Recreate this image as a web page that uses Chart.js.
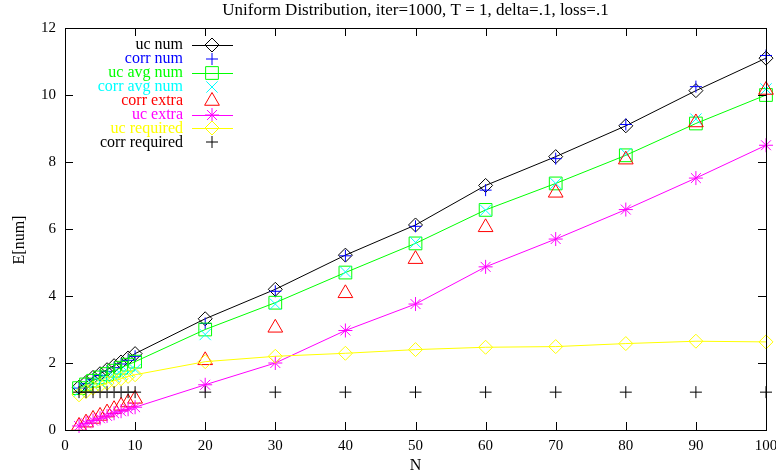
<!DOCTYPE html>
<html>
<head>
<meta charset="utf-8">
<script src="https://cdn.jsdelivr.net/npm/chart.js@4.4.1/dist/chart.umd.min.js"></script>
<style>
    html, body { margin: 0; padding: 0; background: #fff; }
    #wrap { width: 776px; height: 475px; }
</style>
</head>
<body>
<div id="wrap"><canvas id="chart"></canvas></div>
<script>
const nValues = [2, 3, 4, 5, 6, 7, 8, 9, 10, 20, 30, 40, 50, 60, 70, 80, 90, 100];

const ucNum = [1.28, 1.42, 1.57, 1.68, 1.8, 1.92, 2.03, 2.15, 2.28, 3.32, 4.2, 5.22, 6.12, 7.3, 8.16, 9.08, 10.13, 11.1];
const corrNum = [1.25, 1.38, 1.52, 1.63, 1.75, 1.86, 1.97, 2.08, 2.2, 3.18, 4.14, 5.2, 6.08, 7.16, 8.1, 9.12, 10.25, 11.18];
const ucAvgNum = [1.25, 1.36, 1.47, 1.57, 1.67, 1.77, 1.86, 1.95, 2.04, 3.0, 3.8, 4.7, 5.57, 6.57, 7.36, 8.2, 9.15, 10.0];
const corrAvgNum = [1.15, 1.25, 1.34, 1.43, 1.51, 1.59, 1.66, 1.73, 1.8, 2.85, 3.76, 4.72, 5.6, 6.56, 7.36, 8.25, 9.28, 10.18];
const corrExtra = [0.12, 0.22, 0.33, 0.42, 0.52, 0.62, 0.72, 0.82, 0.93, 2.08, 3.05, 4.08, 5.1, 6.05, 7.08, 8.07, 9.18, 10.15];
const ucExtra = [0.12, 0.2, 0.28, 0.35, 0.42, 0.5, 0.56, 0.62, 0.68, 1.35, 2.0, 2.97, 3.76, 4.87, 5.7, 6.58, 7.52, 8.5];
const ucRequired = [1.05, 1.15, 1.25, 1.33, 1.4, 1.47, 1.53, 1.6, 1.65, 2.04, 2.2, 2.29, 2.4, 2.47, 2.49, 2.58, 2.65, 2.63];
const corrRequired = [1.13, 1.13, 1.13, 1.13, 1.13, 1.13, 1.13, 1.13, 1.13, 1.13, 1.13, 1.13, 1.13, 1.13, 1.13, 1.13, 1.13, 1.13];

const xTicks = [0, 10, 20, 30, 40, 50, 60, 70, 80, 90, 100];
const yTicks = [0, 2, 4, 6, 8, 10, 12];

const FONT = 'Liberation Serif, "Times New Roman", serif';

const series = [
    { label: 'uc num', values: ucNum, color: '#000000', style: 'rectRot', radius: 7, line: true },
    { label: 'corr num', values: corrNum, color: '#0000ff', style: 'cross', radius: 6, line: false },
    { label: 'uc avg num', values: ucAvgNum, color: '#00ff00', style: 'rect', radius: 9, line: true },
    { label: 'corr avg num', values: corrAvgNum, color: '#00ffff', style: 'crossRot', radius: 8, line: false },
    { label: 'corr extra', values: corrExtra, color: '#ff0000', style: 'triangle', radius: 8.5, line: false },
    { label: 'uc extra', values: ucExtra, color: '#ff00ff', style: 'star', radius: 7, line: true },
    { label: 'uc required', values: ucRequired, color: '#ffff00', style: 'rectRot', radius: 7, line: true },
    { label: 'corr required', values: corrRequired, color: '#000000', style: 'cross', radius: 6, line: false },
];

// gnuplot style frame: border, inward ticks on all sides, title, y label and key
const gnuplotFrame = {
    id: 'gnuplotFrame',
    afterDraw(chart) {
        const { ctx, chartArea: a, scales } = chart;
        ctx.save();
        ctx.strokeStyle = '#000';
        ctx.lineWidth = 1;
        ctx.strokeRect(a.left + 0.5, a.top + 0.5, a.right - a.left, a.bottom - a.top);

        const tick = 8;
        ctx.beginPath();
        xTicks.forEach((v) => {
            const x = Math.round(scales.x.getPixelForValue(v)) + 0.5;
            ctx.moveTo(x, a.bottom); ctx.lineTo(x, a.bottom - tick);
            ctx.moveTo(x, a.top); ctx.lineTo(x, a.top + tick);
        });
        yTicks.forEach((v) => {
            const y = Math.round(scales.y.getPixelForValue(v)) + 0.5;
            ctx.moveTo(a.left, y); ctx.lineTo(a.left + tick, y);
            ctx.moveTo(a.right, y); ctx.lineTo(a.right - tick, y);
        });
        ctx.stroke();

        ctx.fillStyle = '#000';
        ctx.font = '17px ' + FONT;
        ctx.textAlign = 'center';
        ctx.textBaseline = 'middle';
        ctx.fillText('Uniform Distribution, iter=1000, T = 1, delta=.1, loss=.1', (a.left + a.right) / 2, 11);

        ctx.save();
        ctx.font = '16px ' + FONT;
        ctx.translate(20, 240);
        ctx.rotate(-Math.PI / 2);
        ctx.fillText('E[num]', 0, 0);
        ctx.restore();

        ctx.font = '16px ' + FONT;
        series.forEach((s, i) => {
            const y = 45 + i * 13.9;
            ctx.fillStyle = s.color;
            ctx.textAlign = 'right';
            ctx.fillText(s.label, 183, y);
            ctx.strokeStyle = s.color;
            if (s.line) {
                ctx.beginPath();
                ctx.moveTo(192, Math.round(y) + 0.5);
                ctx.lineTo(233, Math.round(y) + 0.5);
                ctx.stroke();
            }
            ctx.fillStyle = 'rgba(0,0,0,0)';
            Chart.helpers.drawPoint(ctx, { pointStyle: s.style, radius: s.radius, rotation: 0, borderWidth: 1 }, 212, Math.round(y));
        });
        ctx.restore();
    },
};

new Chart(document.getElementById('chart'), {
    type: 'line',
    data: {
        datasets: series.map((s, i) => ({
            label: s.label,
            data: nValues.map((n, k) => ({ x: n, y: s.values[k] })),
            borderColor: s.color,
            backgroundColor: 'rgba(0,0,0,0)',
            borderWidth: 1,
            showLine: s.line,
            pointStyle: s.style,
            pointRadius: s.radius,
            pointBorderWidth: 1,
            pointBorderColor: s.color,
            pointBackgroundColor: 'rgba(0,0,0,0)',
            tension: 0,
            clip: false,
            order: series.length - 1 - i,
        })),
    },
    options: {
        responsive: true,
        maintainAspectRatio: false,
        animation: false,
        events: [],
        layout: { padding: { top: 28, right: 10, left: 0, bottom: 0 } },
        plugins: {
            legend: { display: false },
            title: { display: false },
            tooltip: { enabled: false },
        },
        scales: {
            x: {
                type: 'linear',
                min: 0,
                max: 100,
                grid: { display: false, drawTicks: false },
                border: { display: false },
                afterFit: (scale) => {
                    scale.height = 45;
                    scale.paddingLeft = 0;
                    scale.paddingRight = 0;
                },
                afterBuildTicks: (scale) => { scale.ticks = xTicks.map((v) => ({ value: v })); },
                ticks: { color: '#000', font: { family: FONT, size: 15 }, padding: 7, maxRotation: 0 },
                title: { display: true, text: 'N', color: '#000', font: { family: FONT, size: 16 }, padding: { top: 2, bottom: 0 } },
            },
            y: {
                type: 'linear',
                min: 0,
                max: 12,
                grid: { display: false, drawTicks: false },
                border: { display: false },
                afterFit: (scale) => {
                    scale.width = 65;
                    scale.paddingTop = 0;
                    scale.paddingBottom = 0;
                },
                afterBuildTicks: (scale) => { scale.ticks = yTicks.map((v) => ({ value: v })); },
                ticks: { color: '#000', font: { family: FONT, size: 15 }, padding: 9 },
                title: { display: false },
            },
        },
    },
    plugins: [gnuplotFrame],
});
</script>
</body>
</html>
